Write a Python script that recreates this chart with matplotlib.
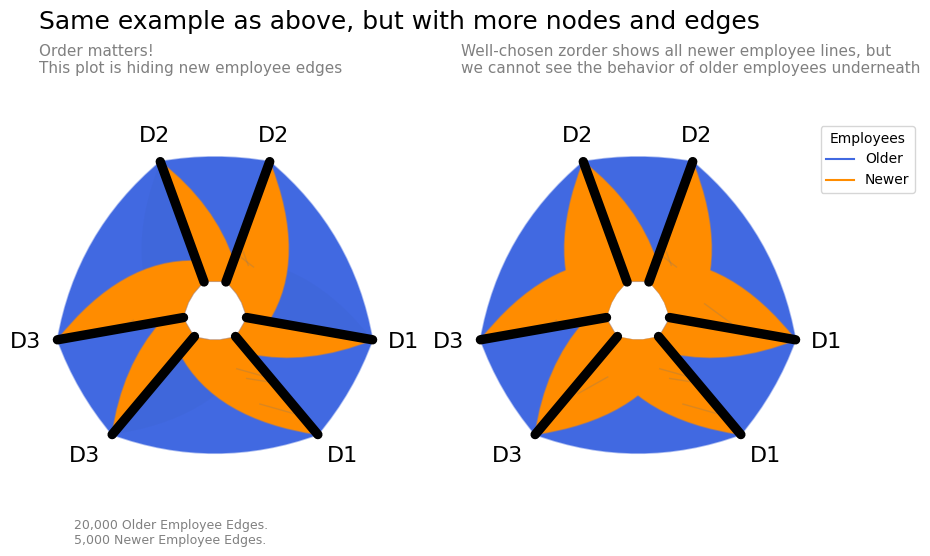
import numpy as np
import matplotlib
matplotlib.use("Agg")
import matplotlib.pyplot as plt
from matplotlib.lines import Line2D
from matplotlib.path import Path
from matplotlib.patches import PathPatch

BLUE = "royalblue"
ORANGE = "darkorange"

# Hive axes, degrees counter clockwise from east
axis_names = ["D1", "D2", "D2", "D3", "D3", "D1"]
axis_angles = [-10, 70, 110, 190, 230, 310]
axis_inner = 0.2
axis_outer = 1.0
new_hire_top = 0.34  # newer employees sit on the inner part of each axis

# label placement
label_angles = [-9.1, 71.5, 109.1, 189, 227.9, 311.6]
label_radii = [1.19, 1.16, 1.164, 1.202, 1.212, 1.204]

# older employee bands between neighbouring axes
older_src = [0, 1, 2, 3, 4, 5]
older_dst = [1, 2, 3, 4, 5, 0]

# newer employee bands, each going to the inner part of the next axis
newer_cw_src = [2, 1, 0, 5, 4, 3]
newer_cw_dst = [1, 0, 5, 4, 3, 2]
# the other direction, only between different departments
newer_ccw_src = [0, 2, 4]
newer_ccw_dst = [1, 3, 5]

# short darker bits of edges that show through the orange (angle, r, angle, r)
streak_a0 = [-69, -64.5, -64, 65.6, 64.7, 191.6]
streak_r0 = [0.38, 0.46, 0.64, 0.38, 0.415, 0.67]
streak_a1 = [-51.5, -47.8, -52.4, 49.5, 54.5, 185.8]
streak_r1 = [0.52, 0.605, 0.80, 0.37, 0.358, 0.513]

# extra ones only visible on the right hive
extra_a0 = [233.7, 7]
extra_r0 = [0.633, 0.42]
extra_a1 = [245, -7]
extra_r1 = [0.448, 0.588]


def polar(angle, r):
    a = np.deg2rad(angle)
    return r * np.cos(a), r * np.sin(a)


def control(a0, r0, a1, r1):
    # quadratic edge, control point halfway in angle and radius
    diff = (a1 - a0 + 180) % 360 - 180
    return polar(a0 + diff / 2, (r0 + r1) / 2)


def band(ax, src, dst, dst_top, color, alpha=1.0, edge_alpha=0.45, zorder=2):
    a0, a1 = axis_angles[src], axis_angles[dst]
    verts = [polar(a0, axis_outer), control(a0, axis_outer, a1, dst_top), polar(a1, dst_top),
             polar(a1, axis_inner), control(a1, axis_inner, a0, axis_inner), polar(a0, axis_inner),
             polar(a0, axis_outer)]
    codes = [Path.MOVETO, Path.CURVE3, Path.CURVE3, Path.LINETO, Path.CURVE3, Path.CURVE3, Path.CLOSEPOLY]
    rgb = matplotlib.colors.to_rgb(color)
    ax.add_patch(PathPatch(Path(verts, codes), facecolor=rgb + (alpha,), edgecolor=rgb + (alpha * edge_alpha,),
                           lw=1.2, zorder=zorder))


def draw_streaks(ax, a0s, r0s, a1s, r1s):
    for a0, r0, a1, r1 in zip(a0s, r0s, a1s, r1s):
        x0, y0 = polar(a0, r0)
        x1, y1 = polar(a1, r1)
        ax.plot([x0, x1], [y0, y1], color="#8a7a66", alpha=0.3, lw=1.0, zorder=4)


def draw_hive(ax, show_all_newer):
    for s, d in zip(older_src, older_dst):
        band(ax, s, d, axis_outer, BLUE, zorder=1)

    for s, d in zip(newer_ccw_src, newer_ccw_dst):
        if show_all_newer:
            band(ax, s, d, new_hire_top, ORANGE, zorder=3)
        else:
            # sits under the older edges, only a faint tint gets through
            band(ax, s, d, new_hire_top, "#33509a", alpha=0.08, edge_alpha=0.0, zorder=2)

    for s, d in zip(newer_cw_src, newer_cw_dst):
        band(ax, s, d, new_hire_top, ORANGE, zorder=3)

    draw_streaks(ax, streak_a0, streak_r0, streak_a1, streak_r1)
    if show_all_newer:
        draw_streaks(ax, extra_a0, extra_r0, extra_a1, extra_r1)

    for a in axis_angles:
        x0, y0 = polar(a, axis_inner)
        x1, y1 = polar(a, axis_outer)
        ax.plot([x0, x1], [y0, y1], color="black", lw=6.8, solid_capstyle="round", zorder=5)

    for name, a, r in zip(axis_names, label_angles, label_radii):
        x, y = polar(a, r)
        ax.text(x, y, name, fontsize=16, ha="center", va="center", zorder=6)

    ax.set_xlim(-1.25, 1.25)
    ax.set_ylim(-1.25, 1.25)
    ax.axis("off")


W, H = 930, 556
fig = plt.figure(figsize=(W / 100, H / 100), dpi=100)

# axes boxes in pixels so the two hives land where they should
ax1 = fig.add_axes([15 / W, (H - 512) / H, 400 / W, 400 / H])
ax2 = fig.add_axes([438 / W, (H - 512) / H, 400 / W, 400 / H])

draw_hive(ax1, False)
draw_hive(ax2, True)

fig.text(39 / W, 1 - 22 / H, "Same example as above, but with more nodes and edges", fontsize=18, va="center")
fig.text(39 / W, 1 - 44 / H, "Order matters!\nThis plot is hiding new employee edges", fontsize=11, color="gray", va="top")
fig.text(461 / W, 1 - 44 / H,
         "Well-chosen zorder shows all newer employee lines, but\nwe cannot see the behavior of older employees underneath",
         fontsize=11, color="gray", va="top")
fig.text(74 / W, 1 - 519 / H, "20,000 Older Employee Edges.\n5,000 Newer Employee Edges.", fontsize=9, color="gray", va="top")

handles = [Line2D([0], [0], color=BLUE, lw=1.5), Line2D([0], [0], color=ORANGE, lw=1.5)]
fig.legend(handles, ["Older", "Newer"], title="Employees", fontsize=10, title_fontsize=10,
           loc="upper right", bbox_to_anchor=(922 / W, 1 - 119 / H))

fig.savefig("out.png", dpi=100)
